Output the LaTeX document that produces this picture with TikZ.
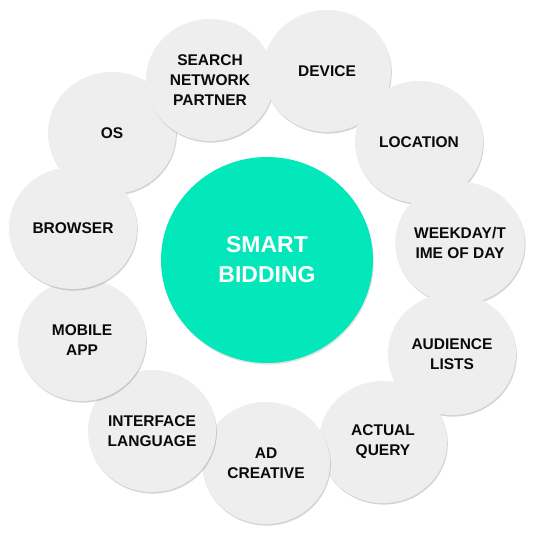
\documentclass[tikz,border=0pt]{standalone}
\usepackage{fontspec}
\setmainfont{Liberation Sans}
\usetikzlibrary{shapes.geometric,shadows}
\definecolor{SBTeal}{HTML}{02E8BA}
\definecolor{SBGray}{HTML}{EEEEEE}
\definecolor{SBText}{HTML}{0A0A0A}
\tikzset{
  factor/.style={ellipse,fill=SBGray,minimum width=128pt,minimum height=122pt,inner sep=0pt,
    align=center,text=SBText,font=\bfseries\fontsize{15.5}{20}\selectfont,
    drop shadow={shadow xshift=.8pt,shadow yshift=-1.6pt,opacity=.3,fill=black!55}},
  hub/.style={ellipse,fill=SBTeal,minimum width=212pt,minimum height=206pt,inner sep=0pt,
    align=center,text=white,font=\bfseries\fontsize{23}{30}\selectfont,
    drop shadow={shadow xshift=.8pt,shadow yshift=-1.6pt,opacity=.2,fill=black!55}}
}

\begin{document}
\begin{tikzpicture}[x=1pt,y=-1pt]
\path[use as bounding box] (0,0) rectangle (540,533);
\fill[white] (0,0) rectangle (540,533);
% outer ring of signals
\node[factor] (os) at (112,133) {OS};
\node[factor] (search) at (210,80) {SEARCH\\NETWORK\\PARTNER};
\node[factor] (device) at (327,71) {DEVICE};
\node[factor] (location) at (419,142) {LOCATION};
\node[factor] (weekday) at (460,243) {WEEKDAY/T\\IME OF DAY};
\node[factor] (audience) at (452,354) {AUDIENCE\\LISTS};
\node[factor] (query) at (383,442) {ACTUAL\\QUERY};
\node[factor] (creative) at (266,463) {AD\\CREATIVE};
\node[factor] (language) at (152,431) {INTERFACE\\LANGUAGE};
\node[factor] (mobile) at (82,340) {MOBILE\\APP};
\node[factor] (browser) at (73,228) {BROWSER};
% centre
\node[hub] (smart) at (267,260) {SMART\\BIDDING};
\end{tikzpicture}
\end{document}
